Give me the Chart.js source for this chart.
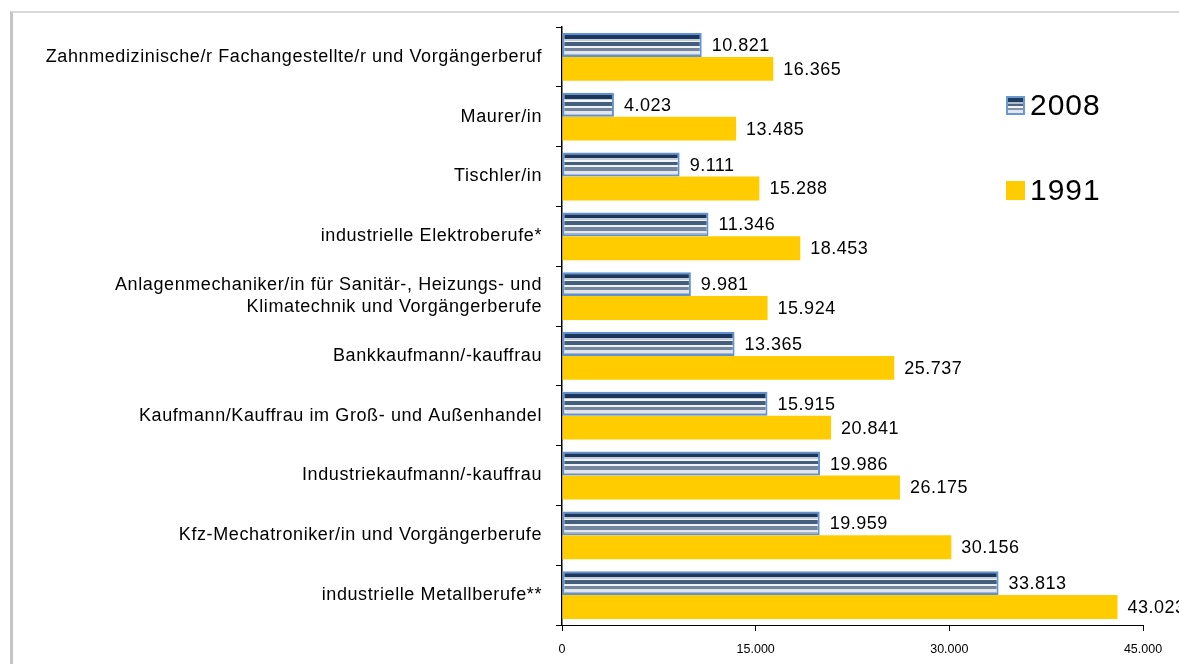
<!DOCTYPE html>
<html>
<head>
<meta charset="utf-8">
<script src="https://cdn.jsdelivr.net/npm/chart.js@4/dist/chart.umd.min.js"></script>
<style>
  html, body { margin: 0; padding: 0; background: #fff; }
  #wrap { position: relative; width: 1179px; height: 664px; overflow: hidden; font-family: "Liberation Sans", Arial, sans-serif; }
  #frame { position: absolute; left: 10px; top: 11px; width: 1200px; height: 700px; border-left: 3px solid #c4c4c4; border-top: 2px solid #d9d9d9; box-sizing: border-box; }
  #c { position: absolute; left: 0; top: 0; }
  .leg { position: absolute; left: 1006px; font-size: 30px; letter-spacing: 1px; color: #000; line-height: 1; display: flex; align-items: center; }
  .sw { width: 19px; height: 19px; margin-right: 5px; box-sizing: border-box; }
</style>
</head>
<body>
<div id="wrap">
  <div id="frame"></div>
  <canvas id="c" width="1179" height="664"></canvas>
  <div class="leg" style="top:90px"><div class="sw" style="border:2px solid #6c98d0;background:linear-gradient(#1f3c60 0 25%,#aebccc 25% 38%,#4d6783 38% 55%,#f2f4f7 55% 70%,#8494a8 70% 82%,#e4e8ee 82%)"></div><span>2008</span></div>
  <div class="leg" style="top:175px"><div class="sw" style="background:#ffcc00"></div><span>1991</span></div>
</div>
<script>
const categories = [
  "Zahnmedizinische/r Fachangestellte/r und Vorgängerberuf",
  "Maurer/in",
  "Tischler/in",
  "industrielle Elektroberufe*",
  ["Anlagenmechaniker/in für Sanitär-, Heizungs- und", "Klimatechnik und Vorgängerberufe"],
  "Bankkaufmann/-kauffrau",
  "Kaufmann/Kauffrau im Groß- und Außenhandel",
  "Industriekaufmann/-kauffrau",
  "Kfz-Mechatroniker/in und Vorgängerberufe",
  "industrielle Metallberufe**"
];
const values2008 = [10821, 4023, 9111, 11346, 9981, 13365, 15915, 19986, 19959, 33813];
const values1991 = [16365, 13485, 15288, 18453, 15924, 25737, 20841, 26175, 30156, 43023];
const xTicks = [0, 15000, 30000, 45000];
const seriesNames = ["2008", "1991"];

function fmt(v) {
  return String(v).replace(/\B(?=(\d{3})+(?!\d))/g, ".");
}

const stripes = [
  [0.00, "#1b375b"], [0.24, "#1b375b"],
  [0.24, "#c3ccd8"], [0.32, "#c3ccd8"],
  [0.32, "#f2f4f7"], [0.38, "#f2f4f7"],
  [0.38, "#445e7d"], [0.54, "#445e7d"],
  [0.54, "#eef1f5"], [0.62, "#eef1f5"],
  [0.62, "#74869d"], [0.76, "#74869d"],
  [0.76, "#e2e6ec"], [0.88, "#e2e6ec"],
  [0.88, "#aab5c3"], [1.00, "#aab5c3"]
];

function stripeFill(ctx) {
  const chart = ctx.chart;
  const y = chart.scales && chart.scales.y;
  if (!chart.chartArea || !y || ctx.dataIndex === undefined) return "#4a6483";
  const center = y.getPixelForValue(ctx.dataIndex);
  const band = (y.bottom - y.top) / categories.length;
  const top = center - 0.4 * band;
  const bottom = center;
  const g = chart.ctx.createLinearGradient(0, top, 0, bottom);
  stripes.forEach(s => g.addColorStop(s[0], s[1]));
  return g;
}

const spacingPlugin = {
  id: "ySpacing",
  afterLayout(chart) {
    const ys = chart.scales.y;
    if (ys && !ys._spacedPatch) {
      const orig = ys.drawLabels;
      ys.drawLabels = function (area) {
        const c = this.ctx;
        c.save();
        c.letterSpacing = "0.6px";
        orig.call(this, area);
        c.restore();
      };
      ys._spacedPatch = true;
    }
  }
};

const labelPlugin = {
  id: "valueLabels",
  afterDatasetsDraw(chart) {
    const c = chart.ctx;
    c.save();
    c.font = '18px "Liberation Sans", Arial, sans-serif';
    c.letterSpacing = "0.5px";
    c.fillStyle = "#000";
    c.textBaseline = "middle";
    c.textAlign = "left";
    chart.data.datasets.forEach((ds, di) => {
      const meta = chart.getDatasetMeta(di);
      meta.data.forEach((el, i) => {
        c.fillText(fmt(ds.data[i]), el.x + 10, el.y + 1);
      });
    });
    c.restore();
  }
};

new Chart(document.getElementById("c"), {
  type: "bar",
  data: {
    labels: categories,
    datasets: [
      {
        label: seriesNames[0],
        data: values2008,
        backgroundColor: stripeFill,
        borderColor: "#5f92d4",
        borderWidth: 2,
        borderSkipped: false
      },
      {
        label: seriesNames[1],
        data: values1991,
        backgroundColor: "#ffcc00",
        borderColor: "#ffcc00",
        borderWidth: 0
      }
    ]
  },
  options: {
    indexAxis: "y",
    responsive: false,
    animation: false,
    devicePixelRatio: 1,
    layout: { padding: { top: 27, right: 36, left: 0, bottom: 0 } },
    datasets: { bar: { barPercentage: 1.0, categoryPercentage: 0.8 } },
    plugins: { legend: { display: false }, tooltip: { enabled: false } },
    scales: {
      x: {
        min: 0, max: 45000,
        afterBuildTicks(scale) { scale.ticks = xTicks.map(v => ({ value: v })); },
        afterFit(scale) { scale.height = 39; },
        grid: { drawOnChartArea: false, drawTicks: true, tickLength: 6, color: "#000" },
        border: { color: "#000", width: 1 },
        ticks: { color: "#000", font: { family: '"Liberation Sans", Arial, sans-serif', size: 12.5 }, padding: 11, maxRotation: 0, callback: v => fmt(v) }
      },
      y: {
        afterFit(scale) { scale.width = 562; },
        grid: { drawOnChartArea: false, drawTicks: true, tickLength: 6, color: "#000", offset: true },
        border: { color: "#000", width: 1.5 },
        ticks: { color: "#000", font: { family: '"Liberation Sans", Arial, sans-serif', size: 18, lineHeight: 1.22 }, padding: 14, autoSkip: false }
      }
    }
  },
  plugins: [spacingPlugin, labelPlugin]
});
</script>
</body>
</html>
